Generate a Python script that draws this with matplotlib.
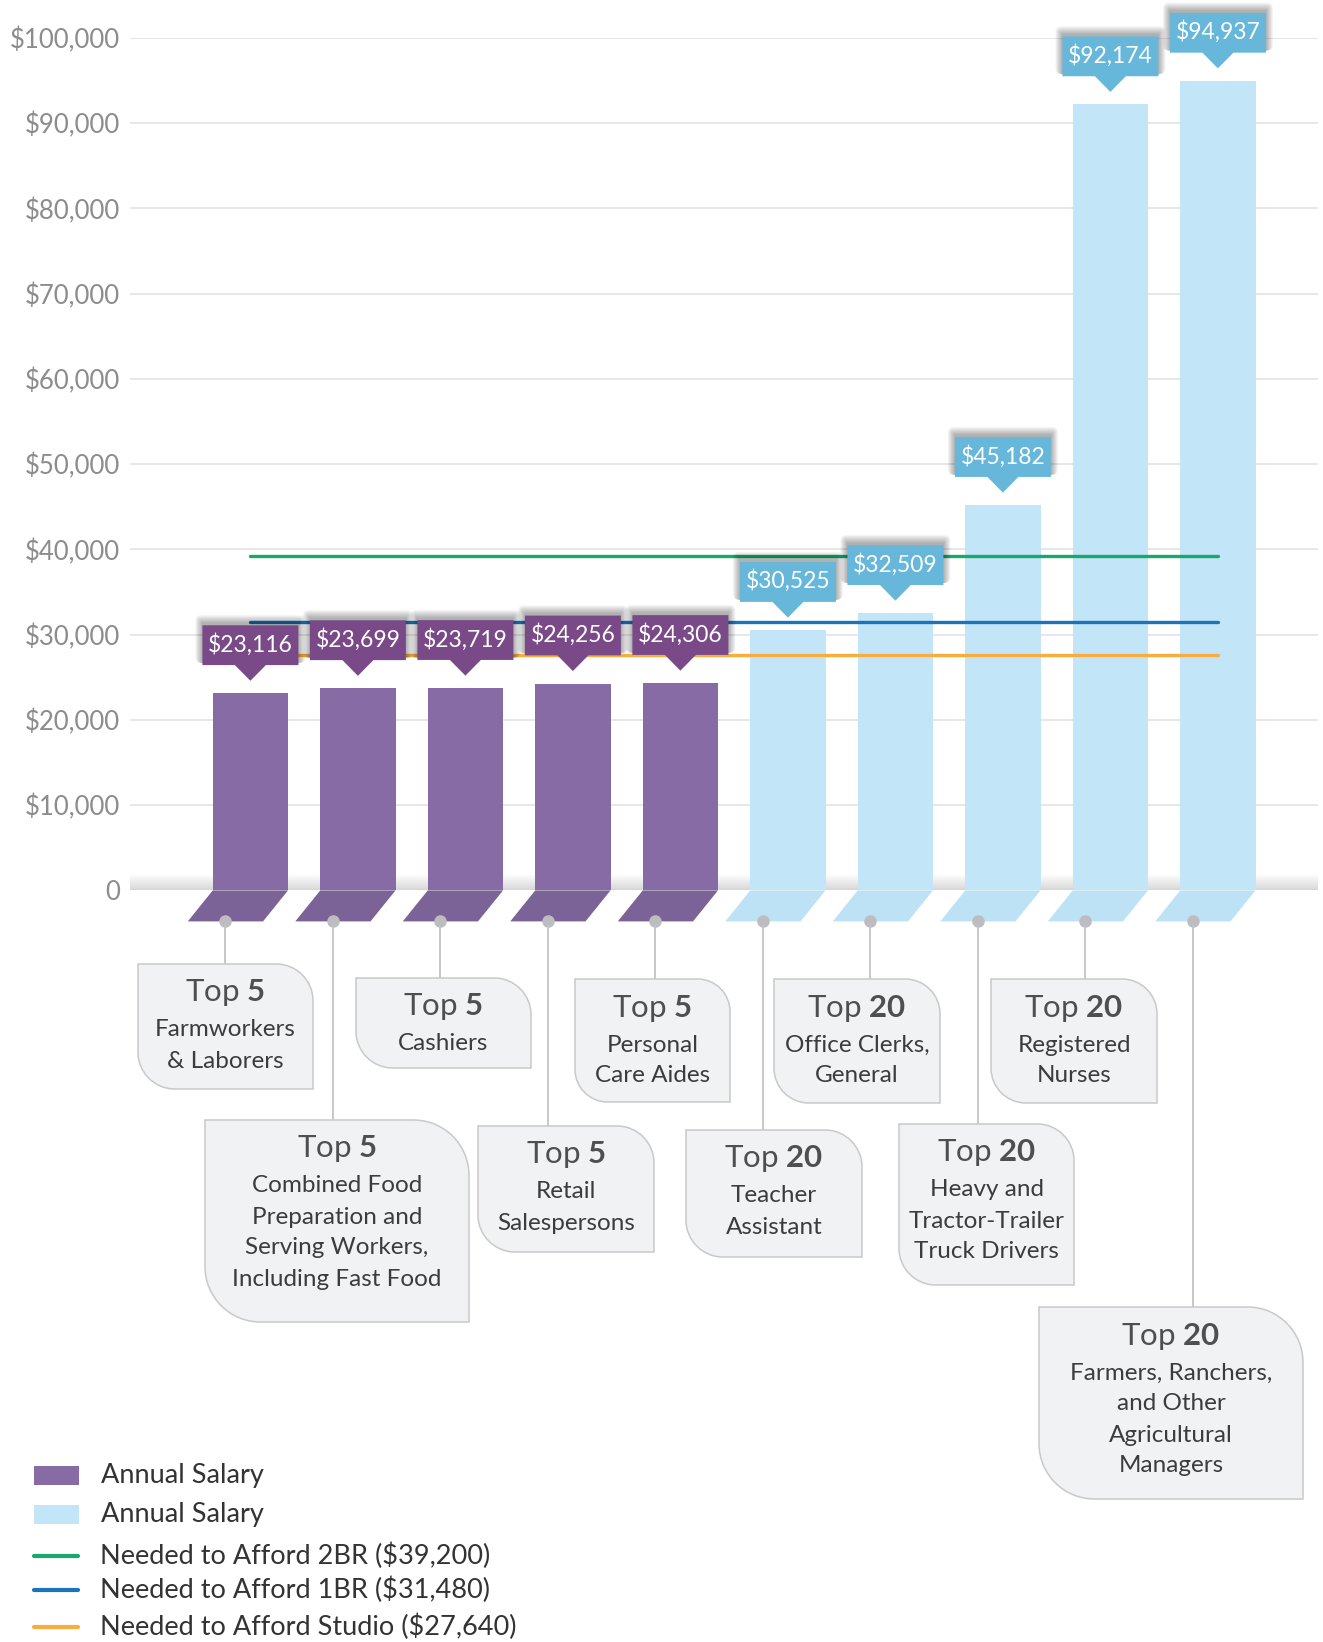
import matplotlib
matplotlib.use("Agg")
import matplotlib.pyplot as plt
import matplotlib.transforms as mtransforms
from matplotlib.path import Path
from matplotlib.patches import PathPatch, Polygon, Rectangle, FancyBboxPatch
import numpy as np

plt.rcParams['font.family'] = ['Lato', 'DejaVu Sans']
plt.rcParams['mathtext.fontset'] = 'custom'
plt.rcParams['mathtext.rm'] = 'Lato'
plt.rcParams['mathtext.bf'] = 'Lato:bold'

# occupations, grouped by "Top 5" / "Top 20"
ranks = ['5', '5', '5', '5', '5', '20', '20', '20', '20', '20']
jobs = [
    "Farmworkers\n& Laborers",
    "Combined Food\nPreparation and\nServing Workers,\nIncluding Fast Food",
    "Cashiers",
    "Retail\nSalespersons",
    "Personal\nCare Aides",
    "Teacher\nAssistant",
    "Office Clerks,\nGeneral",
    "Heavy and\nTractor-Trailer\nTruck Drivers",
    "Registered\nNurses",
    "Farmers, Ranchers,\nand Other\nAgricultural\nManagers",
]
salaries = [23116, 23699, 23719, 24256, 24306, 30525, 32509, 45182, 92174, 94937]

need_names = ['Needed to Afford 2BR', 'Needed to Afford 1BR', 'Needed to Afford Studio']
need_values = [39200, 31480, 27640]
need_colors = ['#17a86b', '#1b74bb', '#f8ad3d']

yticks = [0, 10000, 20000, 30000, 40000, 50000, 60000, 70000, 80000, 90000, 100000]

PURPLE = '#866ba4'
PURPLE_BASE = '#7b6397'
PURPLE_TAG = '#7a4a88'
BLUE = '#c2e5f8'
BLUE_BASE = '#bde2f6'
BLUE_TAG = '#66b7da'

W, H = 1323, 1642
fig = plt.figure(figsize=(W / 100, H / 100), dpi=100)

# chart area: 0 sits at y=890px, 100k at y=38px
ax = fig.add_axes([130 / W, (H - 890.4) / H, (1318 - 130) / W, (890.4 - 37.7) / H])
step = 107.5
xlim = (-(250.4 - 130) / step, (1318 - 250.4) / step)
ypx = 100000 / (890.4 - 37.7)   # data units per pixel
xpx = 1 / step

for s in ax.spines.values():
    s.set_visible(False)
ax.set_xticks([])
ax.set_yticks(yticks)
ax.set_yticklabels(['0' if v == 0 else '${:,}'.format(v) for v in yticks])
ax.tick_params(axis='y', length=0, pad=7, labelsize=18.5, labelcolor='#8c8c8c')
ax.yaxis.grid(True, color='#e3e3e3', lw=1.2)
ax.set_axisbelow(True)

# shaded floor line at zero
grad = np.linspace(0, 1, 64).reshape(-1, 1)
ax.imshow(grad, extent=[xlim[0], xlim[1], 0, 16 * ypx], aspect='auto',
          cmap=matplotlib.colors.LinearSegmentedColormap.from_list('f', ['#d4d4d4', '#ffffff']),
          origin='lower', zorder=1.2, alpha=0.9)
ax.axhline(0, color='#d6d6d6', lw=1.5, zorder=1.3)
ax.set_xlim(*xlim)
ax.set_ylim(0, 100000)

x = np.arange(len(salaries))
is_top5 = [r == '5' for r in ranks]
bar_colors = [PURPLE if t else BLUE for t in is_top5]
base_colors = [PURPLE_BASE if t else BLUE_BASE for t in is_top5]
tag_colors = [PURPLE_TAG if t else BLUE_TAG for t in is_top5]
bw = 0.70
ax.bar(x, salaries, width=bw, color=bar_colors, zorder=3)

# slanted feet under each bar, with a dot at the bottom
foot_h = 31 * ypx
foot_dx = 25 * xpx
dots = []
for xi, c in zip(x, base_colors):
    pts = [(xi - bw / 2, 0), (xi + bw / 2, 0),
           (xi + bw / 2 - foot_dx, -foot_h), (xi - bw / 2 - foot_dx, -foot_h)]
    ax.add_patch(Polygon(pts, closed=True, facecolor=c, edgecolor='none', clip_on=False, zorder=3))
    dots.append((xi - foot_dx, -foot_h))
ax.plot([d[0] for d in dots], [d[1] for d in dots], 'o', ms=8, color='#bdbdc1',
        clip_on=False, zorder=7)

# affordability lines
for v, c in zip(need_values, need_colors):
    ax.plot([x[0], x[-1]], [v, v], color=c, lw=2.4, solid_capstyle='round', zorder=4)

# value tags above bars (shape in pixels, anchored at bar top)
tip, ph, bh, hw, hb = 12.5, 15.7, 39.8, 48, 15.5
for xi, v, c in zip(x, salaries, tag_colors):
    tr = fig.dpi_scale_trans + mtransforms.ScaledTranslation(xi, v, ax.transData)
    y0 = tip + ph
    # soft drop shadow, heavier towards the top edge
    for k in range(1, 13):
        ax.add_patch(FancyBboxPatch(((-hw - k * 0.6) / 100, (y0 + 2) / 100),
                                    (2 * hw + k * 1.2) / 100, (bh + k * 0.7) / 100,
                                    boxstyle='round,pad=0,rounding_size=%f' % (k * 0.5 / 100),
                                    transform=tr, facecolor='black', edgecolor='none',
                                    alpha=0.028, clip_on=False, zorder=5))
    shape = [(-hw, y0), (-hb, y0), (0, tip), (hb, y0), (hw, y0), (hw, y0 + bh), (-hw, y0 + bh)]
    ax.add_patch(Polygon([(a / 100, b / 100) for a, b in shape], closed=True, transform=tr,
                         facecolor=c, edgecolor='none', clip_on=False, zorder=6))
    ax.text(0, (y0 + bh / 2 + 1) / 100, '${:,}'.format(v), transform=tr, ha='center', va='center',
            color='white', fontsize=16.5, zorder=7, clip_on=False)

# overlay in pixel coordinates for the callout boxes and legend
ov = fig.add_axes([0, 0, 1, 1])
ov.set_xlim(0, W)
ov.set_ylim(H, 0)
ov.axis('off')
ov.patch.set_alpha(0)

boxes = [
    (138, 964, 313, 1089),
    (205, 1120, 469, 1322),
    (356, 978, 531, 1068),
    (478, 1126, 654, 1252),
    (575, 979, 730, 1102),
    (686, 1130, 862, 1257),
    (774, 979, 940, 1103),
    (899, 1124, 1074, 1285),
    (991, 979, 1157, 1103),
    (1039, 1307, 1303, 1499),
]


def leaf(x0, y0, x1, y1, r):
    k = 0.5523 * r
    verts = [(x0, y0), (x1 - r, y0), (x1 - r + k, y0), (x1, y0 + r - k), (x1, y0 + r),
             (x1, y1), (x0 + r, y1), (x0 + r - k, y1), (x0, y1 - r + k), (x0, y1 - r),
             (x0, y0), (x0, y0)]
    codes = [Path.MOVETO, Path.LINETO, Path.CURVE4, Path.CURVE4, Path.CURVE4,
             Path.LINETO, Path.LINETO, Path.CURVE4, Path.CURVE4, Path.CURVE4,
             Path.LINETO, Path.CLOSEPOLY]
    return Path(verts, codes)


for (x0, y0, x1, y1), d, rank, job in zip(boxes, dots, ranks, jobs):
    dx, dy = ax.transData.transform(d)
    dy = H - dy
    ov.plot([dx, dx], [dy + 5, y0], color='#c4c4c4', lw=1.3, zorder=1)
    ov.add_patch(PathPatch(leaf(x0, y0, x1, y1, 0.21 * (x1 - x0)), facecolor='#f1f2f4',
                           edgecolor='#c9c9c9', lw=1.1, zorder=2))
    cx = (x0 + x1) / 2
    ov.text(cx, y0 + 29, r'Top $\mathbf{' + rank + '}$', ha='center', va='center',
            fontsize=22.5, color='#4f4f4f', zorder=3)
    for i, line in enumerate(job.split('\n')):
        ov.text(cx, y0 + 66 + 31 * i, line, ha='center', va='center',
                fontsize=17.5, color='#3c3c3c', zorder=3)

# legend
ov.add_patch(Rectangle((33.5, 1466.5), 45, 19, facecolor=PURPLE, edgecolor='none'))
ov.add_patch(Rectangle((33.5, 1505), 45, 19, facecolor=BLUE, edgecolor='none'))
ov.text(101, 1476, 'Annual Salary', va='center', fontsize=19.5, color='#333333')
ov.text(101, 1514.6, 'Annual Salary', va='center', fontsize=19.5, color='#333333')
for yy, name, v, c in zip([1555.6, 1590, 1626.8], need_names, need_values, need_colors):
    ov.plot([34, 78], [yy, yy], color=c, lw=3, solid_capstyle='round')
    ov.text(100, yy, '{} (${:,})'.format(name, v), va='center', fontsize=19.5, color='#333333')

fig.savefig('out.png', dpi=100)
